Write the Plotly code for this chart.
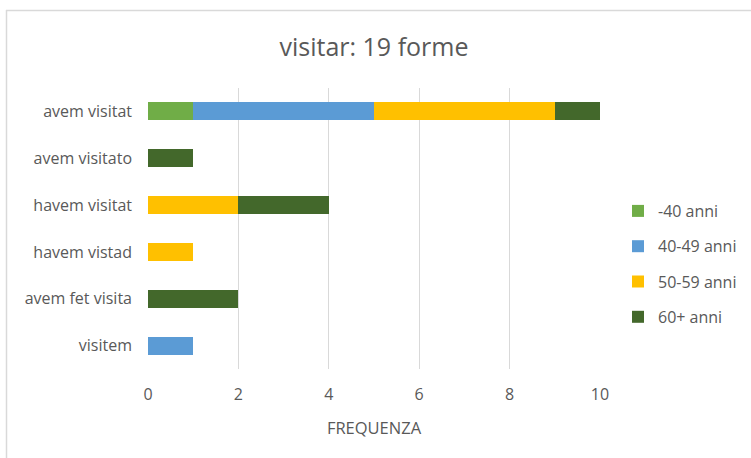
import plotly.graph_objects as go

categories = ["avem visitat", "avem visitato", "havem visitat", "havem vistad", "avem fet visita", "visitem"]
series_names = ["-40 anni", "40-49 anni", "50-59 anni", "60+ anni"]
v_under40 = [1, 0, 0, 0, 0, 0]
v_40_49 = [4, 0, 0, 0, 0, 1]
v_50_59 = [4, 0, 2, 1, 0, 0]
v_60plus = [1, 1, 2, 0, 2, 0]
x_ticks = [0, 2, 4, 6, 8, 10]

colors = ["#70AD47", "#5B9BD5", "#FFC000", "#43682B"]
series_values = [v_under40, v_40_49, v_50_59, v_60plus]

FONT = "Open Sans, Liberation Sans, sans-serif"
GRAY = "#595959"

fig = go.Figure()
for name, vals, col in zip(series_names, series_values, colors):
    fig.add_trace(go.Bar(
        y=categories, x=vals, name=name, orientation="h",
        marker=dict(color=col, line=dict(width=0)),
        legendgroup=name,
    ))

W, H = 751, 458
ml, mr, mt, mb = 148, 151, 88, 89
pw = W - ml - mr
ph = H - mt - mb

def px_x(p):
    return (p - ml) / pw

def px_y(p):
    return (H - mb - p) / ph

fig.update_layout(
    width=W, height=H,
    margin=dict(l=ml, r=mr, t=mt, b=mb, autoexpand=False),
    barmode="stack",
    bargap=0.615,
    plot_bgcolor="white", paper_bgcolor="white",
    font=dict(family=FONT, color=GRAY, size=16),
    title=dict(text="visitar: 19 forme", x=0.5, xref="paper", xanchor="center",
               y=1 - 47 / H, yanchor="middle",
               font=dict(size=25, color=GRAY, family=FONT)),
    xaxis=dict(range=[0, 10], tickvals=x_ticks, showgrid=True, gridcolor="#D9D9D9",
               gridwidth=1, zeroline=False, showline=False,
               ticklabelstandoff=14,
               tickfont=dict(size=16, color=GRAY),
               title=dict(text="FREQUENZA", font=dict(size=16.5, color=GRAY), standoff=18),
               fixedrange=True),
    yaxis=dict(autorange="reversed", showgrid=False, zeroline=False, showline=False,
               ticks="", ticklabelstandoff=15,
               tickfont=dict(size=16, color=GRAY), fixedrange=True),
    legend=dict(x=px_x(618), xanchor="left", y=px_y(264), yanchor="middle",
                traceorder="grouped", tracegroupgap=11.5,
                font=dict(size=16, color=GRAY), bgcolor="rgba(0,0,0,0)"),
    showlegend=True,
)

# chart border (top and left edges visible)
fig.add_shape(type="line", xref="paper", yref="paper",
              x0=px_x(6), x1=px_x(760), y0=px_y(10.5), y1=px_y(10.5),
              line=dict(color="#D9D9D9", width=1.5))
fig.add_shape(type="line", xref="paper", yref="paper",
              x0=px_x(6.5), x1=px_x(6.5), y0=px_y(10), y1=px_y(470),
              line=dict(color="#D9D9D9", width=1.5))

fig.write_html("out.html", config={"displayModeBar": False},
               post_script="document.body.style.margin='0';document.body.style.overflow='hidden';")
